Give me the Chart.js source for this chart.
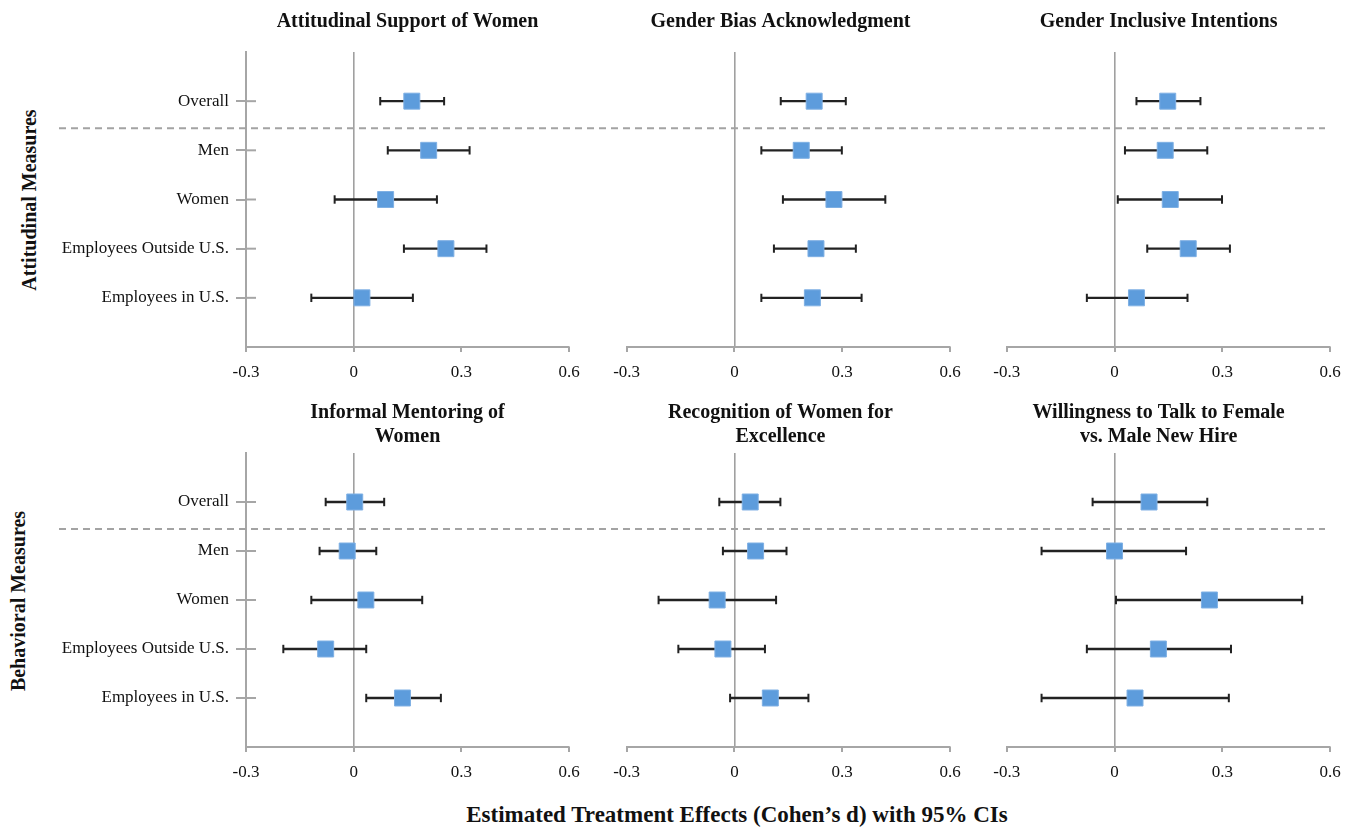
<!DOCTYPE html>
<html>
<head>
<meta charset="utf-8">
<script src="https://cdn.jsdelivr.net/npm/chart.js@4/dist/chart.umd.min.js"></script>
<style>
  body { margin: 0; background: #fff; }
  #wrap { position: relative; width: 1345px; height: 831px; overflow: hidden; background: #fff; }
  #wrap canvas { position: absolute; }
  .group { position: absolute; width: 300px; height: 24px; line-height: 24px; text-align: center;
           font: bold 20px 'Liberation Serif', 'Times New Roman', serif; color: #111; transform: rotate(-90deg); }
  #xtitle { position: absolute; left: 237px; top: 802px; width: 1000px; line-height: 30px; text-align: center;
            font: bold 23px 'Liberation Serif', 'Times New Roman', serif; color: #111; }
</style>
</head>
<body>
<div id="wrap">
  <div class="group" style="left:-120px; top:188px;">Attitudinal Measures</div>
  <div class="group" style="left:-131px; top:589px;">Behavioral Measures</div>
  <div id="xtitle">Estimated Treatment Effects (Cohen’s d) with 95% CIs</div>
</div>
<script>
// rows, top to bottom
const rowLabels = ['Overall', 'Men', 'Women', 'Employees Outside U.S.', 'Employees in U.S.'];
const tickValues = [-0.3, 0, 0.3, 0.6];
const tickLabels = ['-0.3', '0', '0.3', '0.6'];

// attitudinal measures
const supportEst  = [0.162, 0.209, 0.089, 0.257, 0.023];
const supportLow  = [0.074, 0.095, -0.053, 0.140, -0.118];
const supportHigh = [0.252, 0.323, 0.232, 0.370, 0.165];

const biasEst  = [0.222, 0.186, 0.277, 0.227, 0.217];
const biasLow  = [0.129, 0.075, 0.135, 0.110, 0.075];
const biasHigh = [0.310, 0.299, 0.420, 0.338, 0.354];

const inclusiveEst  = [0.148, 0.141, 0.155, 0.205, 0.061];
const inclusiveLow  = [0.061, 0.029, 0.009, 0.091, -0.077];
const inclusiveHigh = [0.239, 0.258, 0.299, 0.321, 0.203];

// behavioral measures
const mentoringEst  = [0.003, -0.018, 0.034, -0.078, 0.136];
const mentoringLow  = [-0.078, -0.095, -0.118, -0.196, 0.035];
const mentoringHigh = [0.085, 0.063, 0.191, 0.035, 0.243];

const recognitionEst  = [0.044, 0.059, -0.048, -0.032, 0.100];
const recognitionLow  = [-0.042, -0.032, -0.211, -0.156, -0.012];
const recognitionHigh = [0.128, 0.145, 0.116, 0.085, 0.206];

const talkEst  = [0.096, 0.000, 0.264, 0.122, 0.057];
const talkLow  = [-0.061, -0.203, 0.004, -0.077, -0.203];
const talkHigh = [0.258, 0.199, 0.522, 0.324, 0.318];

const serif = "'Liberation Serif', 'Times New Roman', serif";
const axisGrey = '#a6a6a6';

// dashed separator under "Overall", short x tick marks, inner half of the category ticks
const panelDecor = {
  id: 'panelDecor',
  afterDraw(chart, args, opts) {
    const ctx = chart.ctx;
    const { x, y } = chart.scales;
    const area = chart.chartArea;
    ctx.save();
    ctx.strokeStyle = '#a3a3a3';
    ctx.lineWidth = 2;
    ctx.setLineDash([7, 5]);
    ctx.lineDashOffset = opts.dashOffset;
    const sepY = y.getPixelForValue(1.55);
    ctx.beginPath();
    ctx.moveTo(opts.dashFrom, sepY);
    ctx.lineTo(opts.dashTo, sepY);
    ctx.stroke();

    ctx.setLineDash([]);
    ctx.strokeStyle = axisGrey;
    tickValues.forEach(v => {
      const px = Math.round(x.getPixelForValue(v));
      ctx.beginPath();
      ctx.moveTo(px, area.bottom);
      ctx.lineTo(px, area.bottom + 5);
      ctx.stroke();
    });
    if (opts.innerTicks) {
      rowLabels.forEach((_, i) => {
        const py = y.getPixelForValue(i + 1);
        ctx.beginPath();
        ctx.moveTo(area.left, py);
        ctx.lineTo(area.left + 10, py);
        ctx.stroke();
      });
    }
    ctx.restore();
  }
};

function makePanel(p) {
  const canvas = document.createElement('canvas');
  canvas.width = p.width;
  canvas.height = p.height;
  canvas.style.left = p.left + 'px';
  canvas.style.top = p.top + 'px';
  document.getElementById('wrap').appendChild(canvas);

  const datasets = [{
    data: p.est.map((v, i) => ({ x: v, y: i + 1 })),
    pointStyle: 'rect',
    pointRadius: 11.3,
    backgroundColor: '#5d9cdc',
    borderColor: '#7fb0e4',
    borderWidth: 1
  }];
  p.low.forEach((lo, i) => {
    datasets.push({
      data: [{ x: lo, y: i + 1 }, { x: p.high[i], y: i + 1 }],
      showLine: true,
      borderColor: '#222',
      borderWidth: 2.4,
      pointStyle: 'line',
      pointRotation: 90,
      pointRadius: 4.2,
      pointBorderWidth: 2,
      pointBorderColor: '#222'
    });
  });

  const first = p.col === 0;
  new Chart(canvas, {
    type: 'scatter',
    data: { datasets },
    plugins: [panelDecor],
    options: {
      responsive: false,
      animation: false,
      layout: { padding: { left: 0, right: p.padRight, top: 0, bottom: 0 } },
      plugins: {
        legend: { display: false },
        tooltip: { enabled: false },
        title: {
          display: true,
          text: p.title,
          fullSize: !first,
          color: '#111',
          font: { family: serif, size: 20, weight: 'bold', lineHeight: p.titleLine },
          padding: p.titlePad
        },
        panelDecor: {
          dashFrom: first ? 59 : 0,
          dashTo: p.col === 2 ? 1325 - p.left : p.width,
          dashOffset: p.left + (first ? 59 : 0) - 59,
          innerTicks: first
        }
      },
      scales: {
        x: {
          type: 'linear',
          min: -0.3,
          max: 0.6,
          afterBuildTicks: s => { s.ticks = tickValues.map(v => ({ value: v })); },
          afterFit: s => { s.height = 53; },
          ticks: {
            color: '#111',
            font: { family: serif, size: 17 },
            padding: 0,
            maxRotation: 0,
            callback: (v, i) => tickLabels[i]
          },
          grid: {
            color: c => (c.tick && c.tick.value === 0 ? '#a0a0a0' : 'rgba(0,0,0,0)'),
            lineWidth: 1.6,
            tickColor: 'rgba(0,0,0,0)',
            tickLength: 15
          },
          border: { display: true, color: axisGrey, width: 2 }
        },
        y: {
          type: 'linear',
          min: 0,
          max: 6,
          reverse: true,
          afterBuildTicks: s => { s.ticks = rowLabels.map((_, i) => ({ value: i + 1 })); },
          afterFit: s => { s.width = p.yWidth; },
          ticks: {
            display: first,
            color: '#111',
            font: { family: serif, size: 17 },
            padding: 7,
            callback: (v, i) => rowLabels[i]
          },
          grid: {
            display: first,
            drawOnChartArea: false,
            tickLength: 10,
            tickColor: axisGrey,
            lineWidth: 2
          },
          border: { display: first, color: axisGrey, width: 2 }
        }
      }
    }
  });
}

const topRow = { top: 0, height: 400, titleLine: 1.2, titlePad: { top: 10, bottom: 18 } };
const bottomRow = { top: 380, height: 420, titleLine: 1.225, titlePad: { top: 20.5, bottom: 3.5 } };
const cols = [
  { col: 0, left: 0, width: 611, yWidth: 246, padRight: 42 },
  { col: 1, left: 611, width: 376, yWidth: 15.6, padRight: 37 },
  { col: 2, left: 987, width: 358, yWidth: 19.7, padRight: 14.8 }
];

makePanel(Object.assign({}, topRow, cols[0], { title: 'Attitudinal Support of Women', est: supportEst, low: supportLow, high: supportHigh }));
makePanel(Object.assign({}, topRow, cols[1], { title: 'Gender Bias Acknowledgment', est: biasEst, low: biasLow, high: biasHigh }));
makePanel(Object.assign({}, topRow, cols[2], { title: 'Gender Inclusive Intentions', est: inclusiveEst, low: inclusiveLow, high: inclusiveHigh }));
makePanel(Object.assign({}, bottomRow, cols[0], { title: ['Informal Mentoring of', 'Women'], est: mentoringEst, low: mentoringLow, high: mentoringHigh }));
makePanel(Object.assign({}, bottomRow, cols[1], { title: ['Recognition of Women for', 'Excellence'], est: recognitionEst, low: recognitionLow, high: recognitionHigh }));
makePanel(Object.assign({}, bottomRow, cols[2], { title: ['Willingness to Talk to Female', 'vs. Male New Hire'], est: talkEst, low: talkLow, high: talkHigh }));
</script>
</body>
</html>
